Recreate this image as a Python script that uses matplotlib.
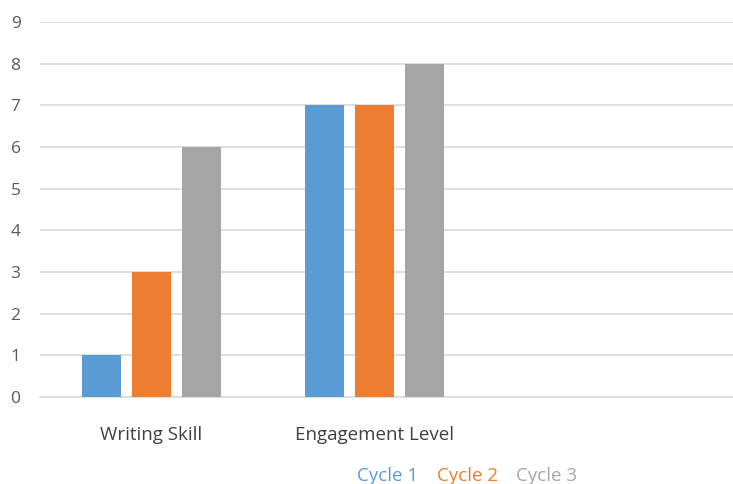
import matplotlib.pyplot as plt
import numpy as np

plt.rcParams['font.family'] = ['Open Sans', 'DejaVu Sans']

categories = ['Writing Skill', 'Engagement Level', '', '']
series = ['Cycle 1', 'Cycle 2', 'Cycle 3']
cycle1 = [1, 7]
cycle2 = [3, 7]
cycle3 = [6, 8]
colors = ['#5B9BD5', '#ED7D31', '#A5A5A5']

fig = plt.figure(figsize=(7.33, 4.84), dpi=100)
# plot area runs past the right edge, like the cropped original
ax = fig.add_axes([40 / 733, 87 / 484, 891 / 733, 375 / 484])

x = np.arange(len(cycle1))
w = 0.175
off = 0.224
for i, (vals, lab) in enumerate(zip([cycle1, cycle2, cycle3], series)):
    ax.bar(x + (i - 1) * off, vals, w, color=colors[i], label=lab, zorder=3)

ax.set_xlim(-0.5, len(categories) - 0.5)
ax.set_ylim(0, 9)
ax.set_yticks(range(10))
ax.set_xticks(range(len(categories)))
ax.set_xticklabels(categories)
ax.yaxis.grid(True, color='#D9D9D9', linewidth=1.2, zorder=0)
for s in ['top', 'right', 'left']:
    ax.spines[s].set_visible(False)
ax.spines['bottom'].set_color('#D9D9D9')
ax.spines['bottom'].set_linewidth(1.2)
ax.tick_params(axis='y', length=0, labelsize=12.5, labelcolor='#595959', pad=14)
ax.tick_params(axis='x', length=0, labelsize=13.5, labelcolor='#404040', pad=21)

leg = fig.legend(loc='center', bbox_to_anchor=(467 / 733, 1 - 476 / 484), ncol=3,
                 frameon=False, handlelength=0, handletextpad=0, columnspacing=1.0,
                 fontsize=13.5, labelcolor=colors)
for h in leg.legend_handles:
    h.set_visible(False)

fig.savefig('out.png', dpi=100)
